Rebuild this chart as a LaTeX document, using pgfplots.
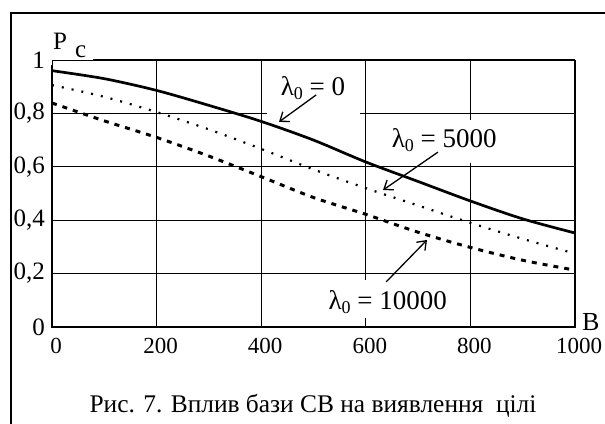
\documentclass[border=0pt]{standalone}
\usepackage{fontspec}
\setmainfont{Liberation Serif}
\usepackage{pgfplots}
\pgfplotsset{compat=1.18}
\usetikzlibrary{arrows.meta}

\newcommand{\lam}[1]{λ{\fontsize{18}{20}\selectfont\raisebox{-4pt}{0}} = #1}

\begin{document}
\begin{tikzpicture}
  \useasboundingbox (0,0) rectangle (605pt,423pt);
  % outer frame, runs off the right and bottom edge
  \draw[line width=1.5pt] (11pt,-5pt) -- (11pt,410pt) -- (612pt,410pt);

  \begin{axis}[
      at={(52pt,96pt)}, anchor=south west,
      scale only axis, width=523pt, height=267pt,
      xmin=0, xmax=1000, ymin=0, ymax=1,
      clip=false,
      axis line style={draw=none},
      tick style={draw=none},
      xtick={0,200,400,600,800,1000},
      xticklabels={0,200,400,600,800,1000},
      ytick={0,0.2,0.4,0.6,0.8,1},
      yticklabels={0,{0,2},{0,4},{0,6},{0,8},1},
      /pgf/number format/assume math mode=true,
      grid=major,
      major grid style={black, line width=0.8pt},
      xticklabel style={font=\fontsize{23}{27}\selectfont, inner sep=0pt, anchor=north, yshift=-11pt, xshift=4pt},
      yticklabel style={font=\fontsize{25}{29}\selectfont, inner sep=0pt, anchor=east, xshift=-7pt},
    ]
    % lambda_0 = 0
    \addplot[black, smooth, line width=2.7pt] coordinates {
      (0,0.960) (100,0.930) (200,0.886) (300,0.830) (400,0.770) (500,0.700)
      (600,0.618) (700,0.545) (800,0.472) (900,0.405) (1000,0.352)
    };
    % lambda_0 = 5000
    \addplot[black, smooth, line width=2.2pt, dash pattern=on 2pt off 8pt] coordinates {
      (0,0.906) (100,0.862) (200,0.805) (300,0.740) (400,0.667) (500,0.590)
      (600,0.520) (700,0.455) (800,0.390) (900,0.330) (1000,0.275)
    };
    % lambda_0 = 10000
    \addplot[black, smooth, line width=3pt, dash pattern=on 5pt off 6pt] coordinates {
      (0,0.839) (100,0.772) (200,0.710) (300,0.640) (400,0.563) (500,0.485)
      (600,0.422) (700,0.355) (800,0.298) (900,0.250) (1000,0.213)
    };

    % axis frame
    \draw[line width=1.6pt] (axis cs:0,0.981) -- (axis cs:0,0) -- (axis cs:1000,0) -- (axis cs:1000,1);
    \draw[line width=1.1pt] (axis cs:1000,1) -- (axis cs:78,1);

    % white boxes behind the labels
    \fill[white] (axis cs:411,0.989) rectangle (axis cs:589,0.790);
    \fill[white] (axis cs:642,0.775) rectangle (axis cs:857,0.614);
    \fill[white] (axis cs:522,0.176) rectangle (axis cs:761,0.034);

    \node[font=\fontsize{27}{30}\selectfont] at (axis cs:499,0.895) {\lam{0}};
    \node[font=\fontsize{27}{30}\selectfont] at (axis cs:750,0.700) {\lam{5000}};
    \node[font=\fontsize{27}{30}\selectfont] at (axis cs:642,0.094) {\lam{10000}};

    \draw[line width=1.3pt, -{Straight Barb[length=8pt,width=12pt,line width=1.3pt]}]
      (axis cs:505,0.869) -- (axis cs:434,0.768);
    \draw[line width=1.3pt, -{Straight Barb[length=8pt,width=12pt,line width=1.3pt]}]
      (axis cs:738,0.655) -- (axis cs:633,0.513);
    \draw[line width=1.3pt, -{Straight Barb[length=8pt,width=12pt,line width=1.3pt]}]
      (axis cs:639,0.169) -- (axis cs:717,0.326);
  \end{axis}

  % axis names
  \node[anchor=base west, inner sep=0pt, font=\fontsize{25}{28}\selectfont] at (53pt,373pt) {P};
  \node[anchor=base west, inner sep=0pt, font=\fontsize{25}{28}\selectfont] at (75pt,365pt) {c};
  \node[anchor=base west, inner sep=0pt, font=\fontsize{26}{29}\selectfont] at (582pt,92pt) {B};

  % caption
  \node[anchor=base, inner sep=0pt, font=\fontsize{25.4}{29}\selectfont] at (313pt,10pt)
    {Рис. 7. Вплив бази СВ на виявлення\ \ цілі};
\end{tikzpicture}
\end{document}
